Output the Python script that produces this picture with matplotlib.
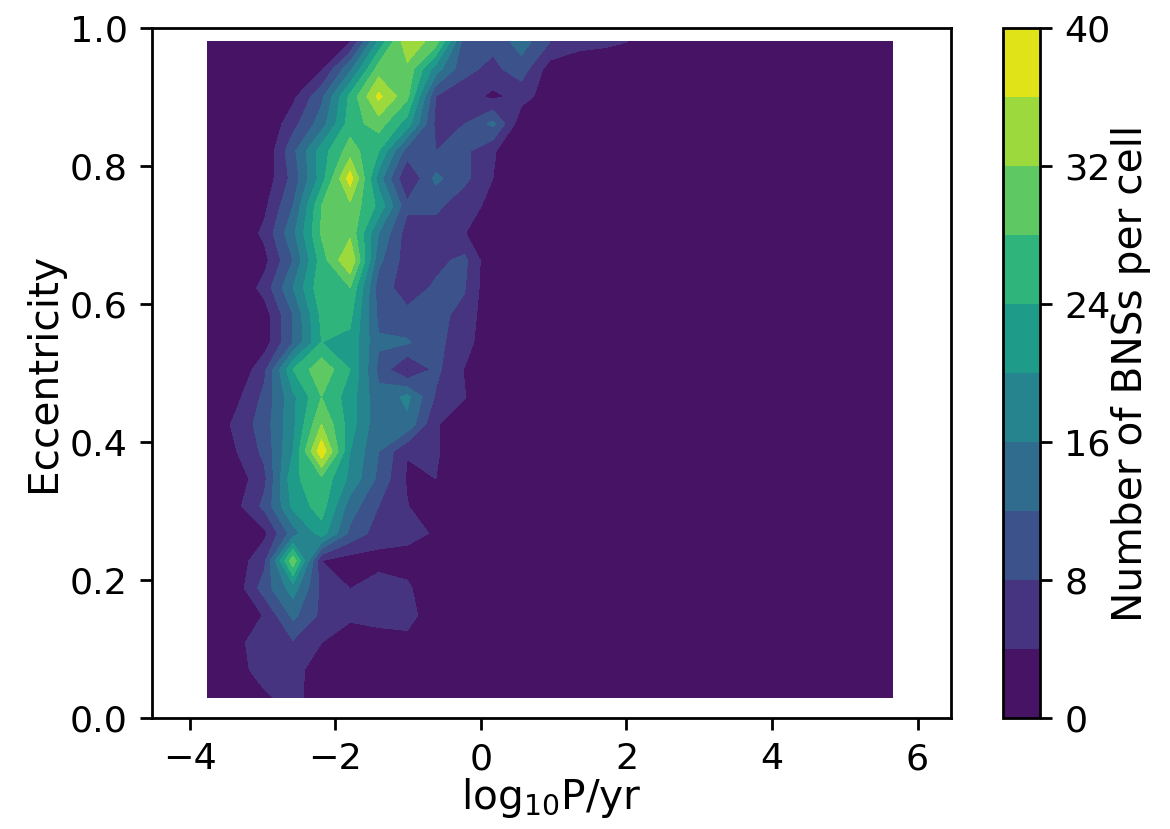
import numpy as np
import matplotlib
matplotlib.use('Agg')
from matplotlib import pyplot as plt

plt.rcParams['font.size'] = 11.7
plt.rcParams['xtick.labelsize'] = 10.5
plt.rcParams['ytick.labelsize'] = 10.5

# cell centres of the grid
log_p = np.linspace(-3.76, 5.66, 25)
ecc = np.linspace(0.03, 0.98, 25)

# number of BNSs per cell, one row per eccentricity (bottom row first)
counts = [
    [0, 0, 3.2, 6, 0.5, 0, 0, 0, 0, 0, 0, 0, 0, 0, 0, 0, 0, 0, 0, 0, 0, 0, 0, 0, 0],
    [0, 2.2, 6, 6, 1, 0, 0, 0, 0, 0, 0, 0, 0, 0, 0, 0, 0, 0, 0, 0, 0, 0, 0, 0, 0],
    [0, 2.5, 7, 7.5, 4, 1, 1.5, 2.4, 0, 0, 0, 0, 0, 0, 0, 0, 0, 0, 0, 0, 0, 0, 0, 0, 0],
    [0, 0.5, 4.3, 13, 7, 5, 6, 6, 0.5, 0, 0, 0, 0, 0, 0, 0, 0, 0, 0, 0, 0, 0, 0, 0, 0],
    [0, 1.5, 10, 18, 7, 3.9, 6, 4.8, 0, 0, 0, 0, 0, 0, 0, 0, 0, 0, 0, 0, 0, 0, 0, 0, 0],
    [0, 1.5, 7, 31, 4, 2, 2.5, 2, 0, 0, 0, 0, 0, 0, 0, 0, 0, 0, 0, 0, 0, 0, 0, 0, 0],
    [0, 0.5, 3, 14, 22, 11, 6, 5.5, 3.5, 0, 0, 0, 0, 0, 0, 0, 0, 0, 0, 0, 0, 0, 0, 0, 0],
    [0, 2.8, 9, 21, 26, 14, 8, 4.2, 0, 0, 0, 0, 0, 0, 0, 0, 0, 0, 0, 0, 0, 0, 0, 0, 0],
    [0, 1.5, 7, 23, 27, 19, 11, 3.5, 4, 0, 0, 0, 0, 0, 0, 0, 0, 0, 0, 0, 0, 0, 0, 0, 0],
    [0, 3.8, 9, 20, 39, 20, 12, 4.2, 4.5, 1, 0, 0, 0, 0, 0, 0, 0, 0, 0, 0, 0, 0, 0, 0, 0],
    [0, 5, 10, 19, 32, 22, 13, 15, 4.3, 2, 0, 0, 0, 0, 0, 0, 0, 0, 0, 0, 0, 0, 0, 0, 0],
    [0, 2.8, 9, 19, 28, 22, 13, 17, 7.5, 4.2, 0, 0, 0, 0, 0, 0, 0, 0, 0, 0, 0, 0, 0, 0, 0],
    [0, 0, 7, 24, 31, 24, 11, 3.5, 9, 3.8, 0, 0, 0, 0, 0, 0, 0, 0, 0, 0, 0, 0, 0, 0, 0],
    [0, 0, 2, 12, 24, 23, 12.5, 12.5, 9, 6, 0, 0, 0, 0, 0, 0, 0, 0, 0, 0, 0, 0, 0, 0, 0],
    [0, 0, 2, 12, 25, 25, 11, 9, 9, 7, 0, 0, 0, 0, 0, 0, 0, 0, 0, 0, 0, 0, 0, 0, 0],
    [0, 0, 5.5, 16, 27, 28, 10, 6, 8.6, 8.3, 0, 0, 0, 0, 0, 0, 0, 0, 0, 0, 0, 0, 0, 0, 0],
    [0, 0, 2.7, 12, 26, 36, 13, 6, 6.9, 9, 0, 0, 0, 0, 0, 0, 0, 0, 0, 0, 0, 0, 0, 0, 0],
    [0, 0, 5, 15, 28.5, 31, 16, 6, 6, 4.2, 0, 0, 0, 0, 0, 0, 0, 0, 0, 0, 0, 0, 0, 0, 0],
    [0, 0, 3, 12, 28, 31, 23, 9, 9, 5.5, 3, 0, 0, 0, 0, 0, 0, 0, 0, 0, 0, 0, 0, 0, 0],
    [0, 0, 1.3, 9.3, 22, 38, 18, 3.7, 13, 9, 4, 0, 0, 0, 0, 0, 0, 0, 0, 0, 0, 0, 0, 0, 0],
    [0, 0, 0.4, 10.9, 22, 30, 24, 10, 8, 9, 4.5, 0, 0, 0, 0, 0, 0, 0, 0, 0, 0, 0, 0, 0, 0],
    [0, 0, 0, 6.5, 14, 26, 30, 22, 7, 8, 13, 1.2, 0, 0, 0, 0, 0, 0, 0, 0, 0, 0, 0, 0, 0],
    [0, 0, 0, 3, 11, 25, 37, 29, 8, 6, 3, 5.5, 2, 0, 0, 0, 0, 0, 0, 0, 0, 0, 0, 0, 0],
    [0, 0, 0, 0, 3.5, 15, 30, 31, 18, 9, 7, 10, 2, 0, 0, 0, 0, 0, 0, 0, 0, 0, 0, 0, 0],
    [0, 0, 0, 0, 0, 3.8, 21, 35, 30, 10, 9, 14, 8, 6, 5, 3.6, 0, 0, 0, 0, 0, 0, 0, 0, 0],
]

levels = np.arange(0, 41, 4)
cbar_ticks = np.arange(0, 41, 8)

fig = plt.figure(figsize=(4.68, 3.316), dpi=250)
ax = fig.add_axes([152 / 1170, 111 / 829, 799 / 1170, 690 / 829])
cax = fig.add_axes([1003 / 1170, 111 / 829, 37 / 1170, 690 / 829])

cs = ax.contourf(log_p, ecc, np.array(counts), levels=levels, cmap='viridis')

ax.set_xlim(-4.52, 6.46)
ax.set_ylim(0, 1)
ax.set_xticks([-4, -2, 0, 2, 4, 6])
ax.set_xlabel('log$_{10}$P/yr', labelpad=0)
ax.set_ylabel('Eccentricity', labelpad=1.5)

cb = fig.colorbar(cs, cax=cax, ticks=cbar_ticks)
cb.set_label('Number of BNSs per cell', labelpad=0)

fig.savefig('out.png', dpi=250)
